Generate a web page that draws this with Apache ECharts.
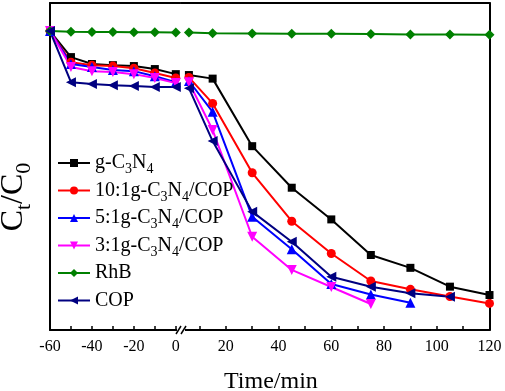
<!DOCTYPE html>
<html>
<head>
<meta charset="utf-8">
<script src="https://cdn.jsdelivr.net/npm/echarts@6/dist/echarts.min.js"></script>
<style>
  html, body { margin: 0; padding: 0; background: #fff; }
  #chart { width: 505px; height: 391px; }
</style>
</head>
<body>
<div id="chart"></div>
<script>
// times (min): dark adsorption and light irradiation
const tDark = [-60, -50, -40, -30, -20, -10, 0]
const tLight = [6, 15, 30, 45, 60, 75, 90, 105, 120]

// Ct/C0 values
const gcnDark = [1.0, 0.913, 0.89, 0.886, 0.883, 0.873, 0.856]
const gcnLight = [0.853, 0.841, 0.615, 0.476, 0.37, 0.251, 0.208, 0.145, 0.117]
const r10Dark = [1.0, 0.896, 0.886, 0.883, 0.876, 0.86, 0.843]
const r10Light = [0.845, 0.758, 0.526, 0.364, 0.256, 0.164, 0.136, 0.112, 0.089]
const r5Dark = [1.0, 0.89, 0.88, 0.87, 0.866, 0.849, 0.829]
const r5Light = [0.833, 0.73, 0.379, 0.27, 0.154, 0.119, 0.091]
const r3Dark = [1.0, 0.88, 0.866, 0.863, 0.856, 0.843, 0.826]
const r3Light = [0.829, 0.669, 0.312, 0.201, 0.144, 0.087]
const rhbDark = [1.0, 0.998, 0.997, 0.997, 0.996, 0.996, 0.995]
const rhbLight = [0.995, 0.993, 0.992, 0.991, 0.991, 0.99, 0.989, 0.989, 0.988]
const copDark = [1.0, 0.829, 0.823, 0.819, 0.816, 0.813, 0.813]
const copLight = [0.809, 0.632, 0.396, 0.295, 0.178, 0.145, 0.123, 0.111]

const darkLabels = [-60, -40, -20, 0]
const darkTicks = [-50, -40, -30, -20, -10, 0]
const lightLabels = [20, 40, 60, 80, 100, 120]
const lightTicks = [10, 20, 30, 40, 50, 60, 70, 80, 90, 100, 110, 120]

const samples = [
  { name: 'g-C3N4', dark: gcnDark, light: gcnLight, color: '#000000', symbol: 'rect', size: 8, rotate: 0 },
  { name: '10:1g-C3N4/COP', dark: r10Dark, light: r10Light, color: '#ff0000', symbol: 'circle', size: 9, rotate: 0 },
  { name: '5:1g-C3N4/COP', dark: r5Dark, light: r5Light, color: '#0000ff', symbol: 'triangle', size: 10, rotate: 0 },
  { name: '3:1g-C3N4/COP', dark: r3Dark, light: r3Light, color: '#ff00ff', symbol: 'triangle', size: 10, rotate: 180 },
  { name: 'RhB', dark: rhbDark, light: rhbLight, color: '#008000', symbol: 'diamond', size: 10, rotate: 0 },
  { name: 'COP', dark: copDark, light: copLight, color: '#000080', symbol: 'triangle', size: 10, rotate: 90 }
]

const font = 'Liberation Serif'
const axisLine = { show: true, onZero: false, lineStyle: { color: '#000', width: 2 } }

function pairs(ts, vs) {
  return vs.map((v, i) => [ts[i], v])
}

// subscripts in the legend names, same box height for every entry
function legendText(name) {
  if (name.indexOf('C3N4') < 0) return '{n|' + name + '}{s| }'
  return '{n|' + name.replace('C3N4', 'C}{s|3}{n|N}{s|4}{n|') + '}'
}

const series = []
samples.forEach(s => {
  const common = {
    name: s.name,
    type: 'line',
    symbol: s.symbol,
    symbolSize: s.size,
    symbolRotate: s.rotate,
    lineStyle: { color: s.color, width: 2 },
    itemStyle: { color: s.color },
    animation: false
  }
  series.push(Object.assign({}, common, { xAxisIndex: 0, yAxisIndex: 0, data: pairs(tDark, s.dark) }))
  series.push(Object.assign({}, common, { xAxisIndex: 2, yAxisIndex: 1, data: pairs(tLight, s.light) }))
})

const chart = echarts.init(document.getElementById('chart'))
chart.setOption({
  backgroundColor: '#fff',
  animation: false,
  grid: [
    { left: 50, top: 3, width: 130, height: 327 },
    { left: 181, top: 3, width: 308.5, height: 327 }
  ],
  legend: {
    orient: 'vertical',
    left: 52,
    top: 148,
    itemWidth: 32,
    itemHeight: 10,
    itemGap: 4,
    data: samples.map(s => s.name),
    formatter: legendText,
    textStyle: {
      rich: {
        n: { fontFamily: font, fontSize: 20, color: '#000', lineHeight: 22 },
        s: { fontFamily: font, fontSize: 14, color: '#000', verticalAlign: 'bottom', lineHeight: 27 }
      }
    }
  },
  xAxis: [
    {
      gridIndex: 0, type: 'value', position: 'bottom', min: -60, max: 2,
      axisLine: axisLine,
      splitLine: { show: false },
      axisTick: { inside: true, length: 4, lineStyle: { color: '#000', width: 1.5 }, customValues: darkTicks },
      axisLabel: { customValues: darkLabels, fontFamily: font, fontSize: 16, color: '#000', margin: 9 }
    },
    {
      gridIndex: 0, type: 'value', position: 'top', min: -60, max: 2,
      axisLine: axisLine, axisTick: { show: false }, axisLabel: { show: false }, splitLine: { show: false }
    },
    {
      gridIndex: 1, type: 'value', position: 'bottom', min: 3, max: 120,
      axisLine: axisLine,
      splitLine: { show: false },
      axisTick: { inside: true, length: 4, lineStyle: { color: '#000', width: 1.5 }, customValues: lightTicks },
      axisLabel: { customValues: lightLabels, fontFamily: font, fontSize: 16, color: '#000', margin: 9 }
    },
    {
      gridIndex: 1, type: 'value', position: 'top', min: 3, max: 120,
      axisLine: axisLine, axisTick: { show: false }, axisLabel: { show: false }, splitLine: { show: false }
    }
  ],
  yAxis: [
    {
      gridIndex: 0, type: 'value', position: 'left', min: 0, max: 1.094,
      axisLine: axisLine, axisTick: { show: false }, axisLabel: { show: false }, splitLine: { show: false }
    },
    {
      gridIndex: 1, type: 'value', position: 'right', min: 0, max: 1.094,
      axisLine: axisLine, axisTick: { show: false }, axisLabel: { show: false }, splitLine: { show: false }
    }
  ],
  graphic: [
    { type: 'rect', shape: { x: 177, y: 327, width: 8, height: 6 }, style: { fill: '#fff' }, z: 100 },
    { type: 'line', shape: { x1: 176, y1: 334, x2: 181, y2: 326 }, style: { stroke: '#000', lineWidth: 1.5 }, z: 101 },
    { type: 'line', shape: { x1: 181, y1: 334, x2: 186, y2: 326 }, style: { stroke: '#000', lineWidth: 1.5 }, z: 101 },
    {
      type: 'text', left: 270 - 46, top: 370,
      style: { text: 'Time/min', font: '24px "Liberation Serif"', fill: '#000' }
    },
    {
      type: 'text', x: 14, y: 197, rotation: Math.PI / 2,
      style: {
        text: '{n|C}{s|t}{n|/C}{s|0}',
        align: 'center',
        verticalAlign: 'middle',
        rich: {
          n: { fontFamily: font, fontSize: 32, fill: '#000', lineHeight: 34 },
          s: { fontFamily: font, fontSize: 22, fill: '#000', verticalAlign: 'bottom', lineHeight: 42 }
        }
      }
    }
  ],
  series: series
})
</script>
</body>
</html>
